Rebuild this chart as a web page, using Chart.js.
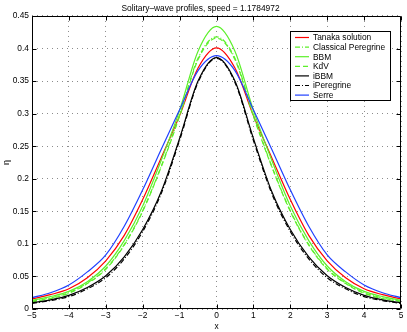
<!DOCTYPE html>
<html>
<head>
<meta charset="utf-8">
<script src="https://cdn.jsdelivr.net/npm/chart.js@4.4.1/dist/chart.umd.min.js"></script>
<style>
  html, body { margin: 0; padding: 0; background: #fff; }
  canvas { display: block; }
</style>
</head>
<body>
<canvas id="chart" width="407" height="332"></canvas>
<script>
// sample positions along x
const xs = [-5, -4.5, -4, -3.5, -3, -2.5, -2, -1.5, -1, -0.5, 0, 0.5, 1, 1.5, 2, 2.5, 3, 3.5, 4, 4.5, 5];

// profiles
const tanaka     = [0.0154, 0.022, 0.031, 0.048, 0.074, 0.113, 0.168, 0.232, 0.297, 0.370, 0.401, 0.370, 0.297, 0.232, 0.168, 0.113, 0.074, 0.048, 0.031, 0.022, 0.0154];
const peregrine  = [0.012, 0.017, 0.025, 0.040, 0.062, 0.099, 0.151, 0.219, 0.298, 0.385, 0.418, 0.385, 0.298, 0.219, 0.151, 0.099, 0.062, 0.040, 0.025, 0.017, 0.012];
const bbm        = [0.0135, 0.019, 0.027, 0.042, 0.066, 0.105, 0.158, 0.228, 0.305, 0.396, 0.434, 0.396, 0.305, 0.228, 0.158, 0.105, 0.066, 0.042, 0.027, 0.019, 0.0135];
const kdv        = [0.0115, 0.016, 0.024, 0.039, 0.061, 0.098, 0.150, 0.218, 0.296, 0.383, 0.416, 0.383, 0.296, 0.218, 0.150, 0.098, 0.061, 0.039, 0.024, 0.016, 0.0115];
const ibbm       = [0.0095, 0.014, 0.021, 0.033, 0.051, 0.080, 0.122, 0.180, 0.262, 0.350, 0.386, 0.350, 0.262, 0.180, 0.122, 0.080, 0.051, 0.033, 0.021, 0.014, 0.0095];
const iperegrine = [0.0085, 0.013, 0.019, 0.031, 0.048, 0.077, 0.119, 0.177, 0.259, 0.348, 0.385, 0.348, 0.259, 0.177, 0.119, 0.077, 0.048, 0.031, 0.019, 0.013, 0.0085];
const serre      = [0.0174, 0.025, 0.037, 0.057, 0.083, 0.127, 0.183, 0.245, 0.306, 0.366, 0.389, 0.366, 0.306, 0.245, 0.183, 0.127, 0.083, 0.057, 0.037, 0.025, 0.0174];

// axis ticks
const xTicks = [-5, -4, -3, -2, -1, 0, 1, 2, 3, 4, 5];
const xTickLabels = ['−5', '−4', '−3', '−2', '−1', '0', '1', '2', '3', '4', '5'];
const yTicks = [0, 0.05, 0.1, 0.15, 0.2, 0.25, 0.3, 0.35, 0.4, 0.45];
const yTickLabels = ['0', '0.05', '0.1', '0.15', '0.2', '0.25', '0.3', '0.35', '0.4', '0.45'];

const FONT = 'Liberation Sans, Arial, Helvetica, sans-serif';
const GREEN = '#5cf02a';

const series = [
  { label: 'Tanaka solution',     data: tanaka,     color: '#ff0000', dash: [] },
  { label: 'Classical Peregrine', data: peregrine,  color: GREEN,     dash: [5, 2, 1, 2] },
  { label: 'BBM',                 data: bbm,        color: GREEN,     dash: [] },
  { label: 'KdV',                 data: kdv,        color: GREEN,     dash: [5, 3] },
  { label: 'iBBM',                data: ibbm,       color: '#000000', dash: [] },
  { label: 'iPeregrine',          data: iperegrine, color: '#000000', dash: [5, 2, 1, 2] },
  { label: 'Serre',               data: serre,      color: '#2040ff', dash: [] }
];

// box round the plot with ticks pointing inwards (matlab style)
const frame = {
  id: 'frame',
  afterDatasetsDraw(chart) {
    const { ctx, chartArea: a, scales: { x, y } } = chart;
    const L = Math.round(a.left) + 0.5, R = Math.round(a.right) - 0.5;
    const T = Math.round(a.top) + 0.5, B = Math.round(a.bottom) - 0.5;
    ctx.save();
    ctx.strokeStyle = '#000';
    ctx.lineWidth = 1;
    ctx.beginPath();
    ctx.rect(L, T, R - L, B - T);
    xTicks.forEach(v => {
      const px = Math.round(x.getPixelForValue(v)) + 0.5;
      ctx.moveTo(px, B); ctx.lineTo(px, B - 4);
      ctx.moveTo(px, T); ctx.lineTo(px, T + 4);
    });
    yTicks.forEach(v => {
      const py = Math.round(y.getPixelForValue(v)) + 0.5;
      ctx.moveTo(L, py); ctx.lineTo(L + 4, py);
      ctx.moveTo(R, py); ctx.lineTo(R - 4, py);
    });
    ctx.stroke();
    ctx.restore();
  }
};

// legend box inside the axes, top right
const boxLegend = {
  id: 'boxLegend',
  afterDraw(chart) {
    const ctx = chart.ctx;
    const left = 290.5, top = 31.5, w = 100, h = 69;
    ctx.save();
    ctx.fillStyle = '#fff';
    ctx.fillRect(left, top, w, h);
    ctx.strokeStyle = '#000';
    ctx.lineWidth = 1;
    ctx.strokeRect(left, top, w, h);
    ctx.font = '8.4px ' + FONT;
    ctx.textBaseline = 'middle';
    series.forEach((s, i) => {
      const yy = 37.5 + i * 9.6;
      ctx.strokeStyle = s.color;
      ctx.lineWidth = 1.2;
      ctx.setLineDash(s.dash);
      ctx.beginPath();
      ctx.moveTo(295, yy);
      ctx.lineTo(309, yy);
      ctx.stroke();
      ctx.setLineDash([]);
      ctx.fillStyle = '#000';
      ctx.fillText(s.label, 313, yy + 0.5);
    });
    ctx.restore();
  }
};

new Chart(document.getElementById('chart'), {
  type: 'line',
  data: {
    datasets: series.map((s, i) => ({
      label: s.label,
      data: s.data.map((v, k) => ({ x: xs[k], y: v })),
      borderColor: s.color,
      backgroundColor: s.color,
      borderDash: s.dash,
      borderWidth: 1.2,
      pointRadius: 0,
      fill: false,
      cubicInterpolationMode: 'monotone',
      order: series.length - i
    }))
  },
  options: {
    responsive: false,
    animation: false,
    devicePixelRatio: 1,
    layout: { padding: { left: 0, right: 6, top: 0, bottom: 0 } },
    scales: {
      x: {
        type: 'linear',
        min: -5,
        max: 5,
        afterBuildTicks: s => { s.ticks = xTicks.map(v => ({ value: v })); },
        afterFit: s => { s.height = 23; },
        ticks: {
          callback: (v, i) => xTickLabels[i],
          autoSkip: false,
          maxRotation: 0,
          padding: 2,
          color: '#000',
          font: { family: FONT, size: 8.4 }
        },
        grid: { color: '#8c8c8c', lineWidth: 1, drawTicks: false },
        border: { display: false, dash: [1, 4] },
        title: { display: true, text: 'x', color: '#000', font: { family: FONT, size: 8.4 }, padding: { top: 0, bottom: 0.6 } }
      },
      y: {
        type: 'linear',
        min: 0,
        max: 0.45,
        afterBuildTicks: s => { s.ticks = yTicks.map(v => ({ value: v })); },
        afterFit: s => { s.width = 32; },
        ticks: {
          callback: (v, i) => yTickLabels[i],
          autoSkip: false,
          padding: 3,
          color: '#000',
          font: { family: FONT, size: 8.4 }
        },
        grid: { color: '#8c8c8c', lineWidth: 1, drawTicks: false },
        border: { display: false, dash: [1, 4] },
        title: { display: true, text: 'η', color: '#000', font: { family: FONT, size: 9 }, padding: { top: 1, bottom: 0 } }
      }
    },
    plugins: {
      legend: { display: false },
      tooltip: { enabled: false },
      title: {
        display: true,
        text: 'Solitary–wave profiles, speed = 1.1784972',
        color: '#000',
        font: { family: FONT, size: 8.4, weight: 'normal' },
        padding: { top: 3.5, bottom: 2.4 }
      }
    }
  },
  plugins: [frame, boxLegend]
});
</script>
</body>
</html>
